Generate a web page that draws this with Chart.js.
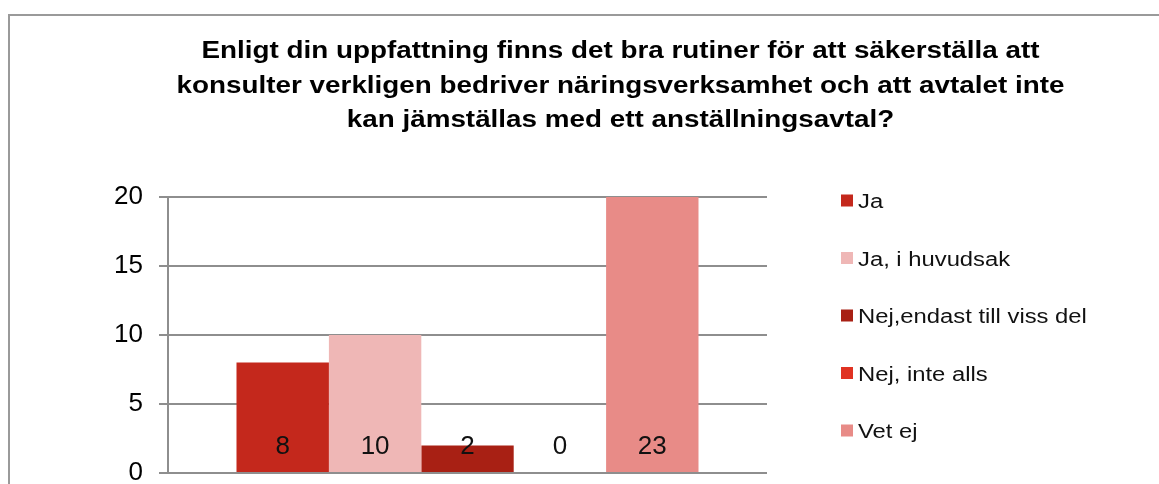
<!DOCTYPE html>
<html>
<head>
<meta charset="utf-8">
<script src="https://cdn.jsdelivr.net/npm/chart.js@4.4.1/dist/chart.umd.min.js"></script>
<style>
  html, body { margin: 0; padding: 0; background: #ffffff; overflow: hidden; }
  #frame { position: absolute; left: 8px; top: 14px; width: 1300px; height: 700px;
           border: 2px solid #9a9a9a; box-sizing: border-box; }
  #wrap { position: absolute; left: 0; top: 0; width: 1159px; height: 484px; }
</style>
</head>
<body>
<div id="frame"></div>
<div id="wrap"><canvas id="c" width="1159" height="484"></canvas></div>
<script>
const titleLines = [
  "Enligt din uppfattning finns det bra rutiner för att säkerställa att",
  "konsulter verkligen bedriver näringsverksamhet och att avtalet inte",
  "kan jämställas med ett anställningsavtal?"
];
const categories = [""];
const seriesNames = ["Ja", "Ja, i huvudsak", "Nej,endast till viss del", "Nej, inte alls", "Vet ej"];
const seriesValues = [8, 10, 2, 0, 23];
const seriesColors = ["#C4281C", "#EFB7B6", "#A82014", "#E03222", "#E88B87"];
const yTicks = [0, 5, 10, 15, 20];

const FONT = "'Liberation Sans', Arial, sans-serif";
const GRID = "#8e8e8e";
const TEXT_STRETCH = 1.21;

const datasets = seriesNames.map((name, i) => ({
  label: name,
  data: [seriesValues[i]],
  backgroundColor: seriesColors[i],
  borderWidth: 0,
  barPercentage: 1.0,
  categoryPercentage: 0.7713
}));

const valueLabels = {
  id: 'valueLabels',
  afterDatasetsDraw(chart) {
    const ctx = chart.ctx;
    const yScale = chart.scales.y;
    ctx.save();
    ctx.font = "26px " + FONT;
    ctx.fillStyle = "#111111";
    ctx.textAlign = "center";
    ctx.textBaseline = "middle";
    chart.data.datasets.forEach((ds, i) => {
      const meta = chart.getDatasetMeta(i);
      meta.data.forEach((el, j) => {
        ctx.fillText(String(ds.data[j]), el.x, yScale.getPixelForValue(0) - 26);
      });
    });
    ctx.restore();
  }
};

const stretchedTitle = {
  id: 'stretchedTitle',
  afterDraw(chart) {
    const ctx = chart.ctx;
    const cx = (chart.scales.y.left + chart.width) / 2;
    ctx.save();
    ctx.font = "bold 23px " + FONT;
    ctx.fillStyle = "#000000";
    ctx.textAlign = "center";
    ctx.textBaseline = "alphabetic";
    ctx.translate(cx, 0);
    ctx.scale(TEXT_STRETCH, 1);
    titleLines.forEach((line, i) => {
      ctx.fillText(line, 0, 58.3 + i * 34.4);
    });
    ctx.restore();
  }
};

const sideLegend = {
  id: 'sideLegend',
  afterDraw(chart) {
    const ctx = chart.ctx;
    const area = chart.chartArea;
    ctx.save();
    chart.data.datasets.forEach((ds, i) => {
      const cy = area.top + 3.5 + i * 57.5;
      const bx = area.right + 74;
      ctx.fillStyle = ds.backgroundColor;
      ctx.fillRect(bx, cy - 6, 12, 12);
      ctx.save();
      ctx.translate(bx + 17, cy + 7.6);
      ctx.scale(1.19, 1);
      ctx.font = "20px " + FONT;
      ctx.textBaseline = "alphabetic";
      ctx.textAlign = "left";
      ctx.fillStyle = "#111111";
      ctx.fillText(ds.label, 0, 0);
      ctx.restore();
    });
    ctx.restore();
  }
};

new Chart(document.getElementById('c'), {
  type: 'bar',
  data: { labels: categories, datasets },
  options: {
    responsive: false,
    animation: false,
    devicePixelRatio: 1,
    layout: { padding: { left: 82, right: 0, top: 197, bottom: 11 } },
    plugins: {
      legend: { display: false },
      tooltip: { enabled: false },
      title: { display: false }
    },
    scales: {
      x: { display: false },
      y: {
        min: 0, max: 20,
        afterFit(s) { s.width = 86; s.paddingTop = 0; s.paddingBottom = 0; },
        afterBuildTicks(s) { s.ticks = yTicks.map(v => ({ value: v })); },
        ticks: { color: "#000000", padding: 16, font: { family: FONT, size: 26 } },
        grid: { color: GRID, lineWidth: 2, tickLength: 9, tickColor: GRID },
        border: { display: true, color: GRID, width: 2 }
      },
      y2: {
        position: 'right',
        display: true,
        afterFit(s) { s.width = 392; s.paddingTop = 0; s.paddingBottom = 0; },
        ticks: { display: false },
        grid: { display: false },
        border: { display: false }
      }
    }
  },
  plugins: [valueLabels, stretchedTitle, sideLegend]
});
</script>
</body>
</html>
